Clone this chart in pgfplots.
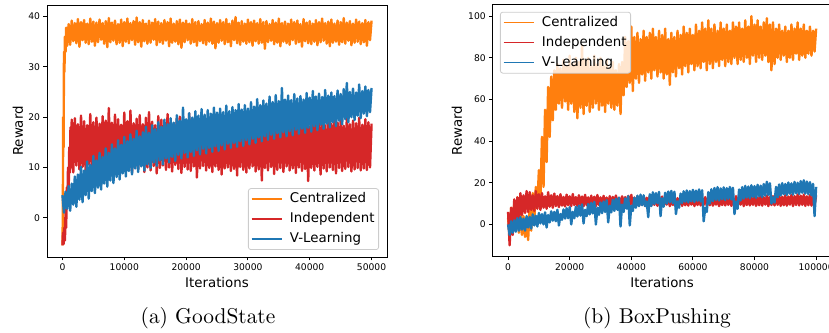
\documentclass[border=0pt]{standalone}
\usepackage{fontspec}
\usepackage{pgfplots}
\usepackage{pgfplotstable}
\pgfplotsset{compat=1.18}
\newfontfamily\dejavu{DejaVu Sans}
\newfontfamily\capfont{lmroman10-regular.otf}
\definecolor{corange}{HTML}{FF7F0E}
\definecolor{cred}{HTML}{D62728}
\definecolor{cblue}{HTML}{1F77B4}

% ---------------- GoodState ----------------
\pgfplotstableread{
x y
0 -5.5
60 0
120 20
180 14
250 33
320 29
400 36
500 33
600 37.8
750 34.2
1000 38.5
1250 34.4
1500 39.2
1750 35.1
2000 38.7
2250 34.7
2500 39.5
2750 34.0
3000 38.9
3250 35.3
3500 39.3
3750 34.8
4000 38.6
4250 34.5
4500 39.6
4750 35.0
5000 39.0
5250 34.2
5500 38.8
5750 34.9
6000 39.4
6250 35.4
6500 38.7
6750 34.6
7000 39.1
7250 33.9
7500 39.7
7750 34.9
8000 38.8
8250 35.2
8500 39.2
8750 34.5
9000 38.5
9250 34.8
9500 39.4
9750 34.1
10000 38.9
10250 35.0
10500 39.6
10750 34.7
11000 38.7
11250 35.3
11500 39.1
11750 34.4
12000 39.8
12250 34.9
12500 38.9
12750 34.0
13000 39.3
13250 35.1
13500 38.6
13750 34.6
14000 39.2
14250 34.8
14500 38.8
14750 35.4
15000 39.5
15250 34.3
15500 39.0
15750 34.9
16000 38.7
16250 34.6
16500 39.3
16750 35.2
17000 38.9
17250 34.1
17500 39.6
17750 34.8
18000 38.6
18250 35.0
18500 39.1
18750 34.5
19000 39.4
19250 33.8
19500 38.8
19750 34.9
20000 39.2
20250 35.3
20500 38.6
20750 34.6
21000 39.5
21250 34.9
21500 38.9
21750 34.2
22000 39.1
22250 35.1
22500 38.5
22750 34.7
23000 39.3
23250 34.4
23500 38.8
23750 35.0
24000 39.6
24250 34.6
24500 39.0
24750 33.7
25000 38.7
25250 34.8
25500 39.3
25750 35.2
26000 38.9
26250 34.5
26500 39.5
26750 34.9
27000 38.6
27250 34.1
27500 39.2
27750 35.3
28000 39.9
28250 34.7
28500 38.8
28750 34.4
29000 39.1
29250 35.0
29500 38.6
29750 34.6
30000 39.4
30250 34.9
30500 38.9
30750 34.2
31000 39.2
31250 35.1
31500 38.7
31750 34.6
32000 39.5
32250 34.8
32500 38.9
32750 33.6
33000 39.1
33250 34.9
33500 38.5
33750 35.2
34000 39.3
34250 34.5
34500 38.8
34750 34.8
35000 39.6
35250 34.1
35500 38.7
35750 35.0
36000 39.0
36250 34.7
36500 38.6
36750 34.4
37000 39.4
37250 35.3
37500 38.9
37750 34.6
38000 39.2
38250 34.9
38500 38.5
38750 34.0
39000 39.5
39250 35.1
39500 38.8
39750 34.7
40000 39.1
40250 34.5
40500 38.6
40750 35.0
41000 39.3
41250 34.3
41500 38.9
41750 34.9
42000 39.6
42250 35.2
42500 38.7
42750 34.6
43000 39.0
43250 34.1
43500 39.4
43750 34.8
44000 38.6
44250 35.0
44500 39.2
44750 34.4
45000 38.9
45250 34.9
45500 39.7
45750 34.6
46000 38.8
46250 35.2
46500 39.1
46750 34.3
47000 38.6
47250 34.8
47500 39.4
47750 35.0
48000 39.0
48250 34.5
48500 38.7
48750 34.9
49000 39.3
49250 34.2
49500 38.9
49750 35.3
50000 39.2
}\gsCen

\pgfplotstableread{
x y
0 -5.5
100 -3
200 -5.2
300 -2
400 -4.5
500 1
600 -2
700 6
800 3
900 10
1000 5
1100 14
1200 9
1300 18
1400 10
1500 19.5
1750 9.0
2000 19.8
2250 10.4
2500 18.6
2750 9.6
3000 20.3
3250 10.1
3500 19.2
3750 9.2
4000 18.4
4250 10.6
4500 20.6
4750 9.8
5000 19.0
5250 10.2
5500 19.9
5750 9.4
6000 18.7
6250 10.7
6500 20.2
6750 9.9
7000 19.3
7250 10.3
7500 21.8
7750 9.5
8000 18.9
8250 10.8
8500 20.5
8750 9.7
9000 19.6
9250 10.1
9500 18.5
9750 9.3
10000 20.9
10250 10.5
10500 19.2
10750 9.9
11000 21.3
11250 8.9
11500 18.8
11750 10.2
12000 19.7
12250 9.6
12500 20.4
12750 10.6
13000 18.6
13250 9.1
13500 19.9
13750 10.0
14000 21.0
14250 9.4
14500 19.1
14750 10.3
15000 18.4
15250 8.8
15500 20.2
15750 9.9
16000 19.5
16250 10.4
16500 18.7
16750 9.5
17000 20.6
17250 10.0
17500 19.0
17750 9.2
18000 18.3
18250 10.5
18500 19.8
18750 9.7
19000 20.1
19250 8.9
19500 18.9
19750 10.1
20000 19.4
20250 9.6
20500 20.7
20750 9.3
21000 18.5
21250 10.2
21500 19.6
21750 8.0
22000 18.8
22250 9.8
22500 20.0
22750 10.3
23000 19.3
23250 9.4
23500 18.2
23750 9.9
24000 19.7
24250 9.1
24500 20.3
24750 10.2
25000 18.6
25250 9.5
25500 19.1
25750 8.6
26000 18.0
26250 9.8
26500 19.5
26750 10.0
27000 18.7
27250 9.3
27500 19.9
27750 9.7
28000 18.4
28250 8.4
28500 19.2
28750 10.1
29000 20.0
29250 9.5
29500 18.1
29750 9.0
30000 18.9
30250 9.8
30500 19.6
30750 10.2
31000 18.3
31250 9.2
31500 19.0
31750 9.6
32000 18.5
32250 7.4
32500 19.8
32750 9.9
33000 18.2
33250 9.4
33500 19.3
33750 10.1
34000 18.7
34250 8.7
34500 20.1
34750 9.5
35000 18.4
35250 9.9
35500 19.0
35750 9.1
36000 18.8
36250 10.2
36500 19.5
36750 9.4
37000 18.3
37250 9.8
37500 19.9
37750 8.9
38000 18.6
38250 10.0
38500 20.4
38750 9.3
39000 18.9
39250 9.7
39500 19.2
39750 7.3
40000 18.1
40250 9.9
40500 19.7
40750 9.4
41000 18.5
41250 10.1
41500 20.0
41750 8.6
42000 19.1
42250 9.8
42500 18.4
42750 9.2
43000 19.6
43250 10.0
43500 18.7
43750 9.5
44000 20.2
44250 8.8
44500 18.9
44750 9.9
45000 19.4
45250 9.3
45500 18.3
45750 9.7
46000 19.8
46250 10.1
46500 18.6
46750 9.2
47000 19.3
47250 9.6
47500 18.8
47750 9.9
48000 19.9
48250 9.4
48500 18.5
48750 9.8
49000 19.6
49250 9.5
49500 19.0
49750 10.0
50000 18.7
}\gsInd

\pgfplotstableread{
x y
0 4.5
250 1.0
500 5.2
750 1.8
1000 6.3
1250 1.4
1500 6.8
1750 2.6
2000 8.2
2250 2.2
2500 8.6
2750 3.6
3000 10.1
3250 3.1
3500 9.4
3750 4.5
4000 11.2
4250 3.8
4500 10.5
4750 5.3
5000 12.3
5250 4.9
5500 11.4
5750 6.0
6000 12.9
6250 5.6
6500 12.1
6750 6.8
7000 13.8
7250 6.2
7500 12.9
7750 7.4
8000 14.6
8250 6.9
8500 13.8
8750 8.1
9000 15.4
9250 7.6
9500 14.5
9750 8.8
10000 16.1
10250 8.2
10500 15.2
10750 9.3
11000 16.6
11250 8.6
11500 15.7
11750 9.8
12000 17.3
12250 9.1
12500 16.2
12750 10.2
13000 17.0
13250 9.4
13500 18.1
13750 10.6
14000 16.9
14250 9.9
14500 18.4
14750 11.0
15000 17.6
15250 10.3
15500 19.0
15750 11.4
16000 18.1
16250 10.6
16500 19.5
16750 11.8
17000 18.6
17250 11.0
17500 19.8
17750 12.1
18000 18.9
18250 11.3
18500 20.4
18750 12.5
19000 19.3
19250 11.8
19500 21.9
19750 12.9
20000 19.6
20250 12.0
20500 20.8
20750 13.1
21000 19.9
21250 12.3
21500 21.2
21750 13.4
22000 20.3
22250 12.6
22500 21.6
22750 13.7
23000 20.5
23250 12.8
23500 21.4
23750 13.9
24000 20.7
24250 13.1
24500 21.9
24750 14.2
25000 20.9
25250 13.3
25500 21.7
25750 14.4
26000 21.0
26250 13.6
26500 22.3
26750 14.7
27000 21.2
27250 13.9
27500 22.0
27750 14.9
28000 21.4
28250 14.1
28500 22.6
28750 15.2
29000 21.5
29250 14.3
29500 22.4
29750 15.4
30000 21.7
30250 14.6
30500 23.0
30750 15.7
31000 22.1
31250 14.9
31500 23.6
31750 16.0
32000 22.4
32250 15.2
32500 23.3
32750 16.2
33000 22.7
33250 15.5
33500 24.1
33750 16.5
34000 23.0
34250 15.7
34500 24.4
34750 16.8
35000 23.2
35250 16.0
35500 25.8
35750 17.0
36000 23.5
36250 16.2
36500 24.3
36750 17.2
37000 23.4
37250 16.4
37500 24.6
37750 17.5
38000 23.7
38250 16.7
38500 24.2
38750 17.7
39000 23.5
39250 16.9
39500 24.8
39750 17.9
40000 23.9
40250 17.1
40500 25.2
40750 18.2
41000 24.1
41250 17.4
41500 24.7
41750 18.5
42000 24.0
42250 17.7
42500 25.4
42750 18.7
43000 24.3
43250 18.0
43500 24.9
43750 19.0
44000 24.2
44250 18.2
44500 25.3
44750 19.3
45000 24.6
45250 18.6
45500 25.6
45750 19.6
46000 26.8
46250 19.0
46500 25.0
46750 20.0
47000 25.7
47250 19.4
47500 24.9
47750 20.3
48000 26.5
48250 19.8
48500 25.2
48750 20.7
49000 26.1
49250 20.2
49500 25.4
49750 21.0
50000 25.8
}\gsVL

% ---------------- BoxPushing ----------------
\pgfplotstableread{
x y
0 3
500 -5
1000 8
1500 -3
2000 10
2500 -2
3000 13
3500 -4
4000 6
4500 -5
5000 4
5500 -6
6000 3
6500 -7.5
7000 8
7500 -3
8000 15
8500 2
9000 18
9500 9
10000 26
10500 13
11000 42
11500 18
12000 55
12500 30
13000 66
13500 42
14000 71
14500 50
15000 74
15500 55
16000 77
16500 58
17000 75
17500 56
18000 79
18500 59
19000 76
19500 55
20000 81
20500 58
21000 77
21500 54
22000 80
22500 51
23000 78
23500 56
24000 86
24500 53
25000 79
25500 57
26000 80
26500 54
27000 76
27500 56
28000 81
28500 58
29000 77
29500 55
30000 80
30500 57
31000 76
31500 54
32000 79
32500 58
33000 75
33500 56
34000 78
34500 55
35000 74
35500 57
36000 77
36500 53
37000 78
37500 62
38000 90
38500 66
39000 88
39500 68
40000 95
40500 64
41000 90
41500 70
42000 92
42500 68
43000 89
43500 72
44000 93
44500 69
45000 90
45500 73
46000 92
46500 70
47000 94
47500 74
48000 90
48500 71
49000 93
49500 73
50000 91
50500 70
51000 94
51500 72
52000 89
52500 67
53000 92
53500 73
54000 90
54500 71
55000 93
55500 75
56000 91
56500 72
57000 95
57500 76
58000 92
58500 73
59000 94
59500 77
60000 91
60500 74
61000 96
61500 76
62000 93
62500 75
63000 97
63500 78
64000 94
64500 74
65000 98
65500 77
66000 94
66500 75
67000 96
67500 78
68000 93
68500 76
69000 97
69500 79
70000 94
70500 76
71000 96
71500 78
72000 93
72500 77
73000 97
73500 80
74000 95
74500 77
75000 97
75500 79
76000 94
76500 78
77000 98
77500 80
78000 95
78500 77
79000 100
79500 81
80000 96
80500 78
81000 98
81500 80
82000 95
82500 79
83000 97
83500 81
84000 99
84500 78
85000 96
85500 74
86000 97
86500 77
87000 94
87500 80
88000 96
88500 79
89000 93
89500 81
90000 95
90500 78
91000 93
91500 80
92000 96
92500 79
93000 94
93500 82
94000 97
94500 79
95000 94
95500 81
96000 96
96500 80
97000 93
97500 82
98000 95
98500 81
99000 93
99500 83
100000 94
}\bpCen

\pgfplotstableread{
x y
0 6
500 -10
1000 8
1500 -5
2000 12
2500 0
3000 13
3500 3
4000 15
4500 4.5
5000 14
5500 5.5
6000 16
6500 6
7000 15.5
7500 7
8000 14
8500 6.5
9000 16
9500 7.5
10000 14.5
10500 7
11000 15
11500 8
12000 13.5
12500 7.5
13000 15.5
13500 8.5
14000 14
14500 8
15000 14.8
15500 8.8
16000 13.6
16500 8.3
17000 14.5
17500 9
18000 13.2
18500 8.6
19000 14.3
19500 9.2
20000 13.5
20500 8.8
21000 14.6
21500 9.3
22000 13.1
22500 8.9
23000 14.0
23500 9.4
24000 13.4
24500 8.7
25000 14.2
25500 9.2
26000 13.0
26500 9.0
27000 13.8
27500 9.5
28000 13.3
28500 8.8
29000 14.1
29500 9.3
30000 13.0
30500 9.0
31000 13.7
31500 9.4
32000 12.9
32500 8.9
33000 13.6
33500 9.2
34000 13.2
34500 9.1
35000 13.9
35500 9.5
36000 12.8
36500 8.8
37000 13.5
37500 9.3
38000 13.1
38500 9.0
39000 13.7
39500 9.4
40000 14.2
40500 8.9
41000 12.9
41500 9.2
42000 13.5
42500 9.0
43000 12.7
43500 9.5
44000 13.3
44500 8.8
45000 12.8
45500 9.3
46000 13.6
46500 9.1
47000 12.6
47500 9.4
48000 13.2
48500 8.9
49000 12.9
49500 9.2
50000 13.4
50500 9.0
51000 12.7
51500 9.5
52000 13.1
52500 8.8
53000 12.8
53500 9.3
54000 13.5
54500 9.1
55000 12.6
55500 9.4
56000 13.2
56500 8.9
57000 12.9
57500 9.2
58000 13.4
58500 9.0
59000 12.7
59500 9.5
60000 13.0
60500 8.8
61000 12.8
61500 9.3
62000 13.3
62500 9.1
63000 12.6
63500 9.4
64000 13.1
64500 8.9
65000 12.9
65500 9.2
66000 13.4
66500 9.0
67000 12.7
67500 9.5
68000 13.2
68500 8.8
69000 12.8
69500 9.3
70000 13.5
70500 9.1
71000 12.9
71500 9.4
72000 13.3
72500 8.9
73000 12.7
73500 9.2
74000 13.6
74500 9.0
75000 13.0
75500 9.5
76000 13.4
76500 8.8
77000 12.8
77500 9.3
78000 13.2
78500 9.1
79000 13.0
79500 9.4
80000 13.5
80500 8.9
81000 12.9
81500 9.2
82000 13.7
82500 9.0
83000 13.1
83500 9.5
84000 13.9
84500 8.8
85000 13.2
85500 9.3
86000 13.6
86500 9.1
87000 13.0
87500 9.4
88000 13.8
88500 8.9
89000 13.3
89500 9.2
90000 14.0
90500 9.0
91000 13.4
91500 9.5
92000 14.2
92500 8.8
93000 13.6
93500 9.3
94000 14.4
94500 9.1
95000 13.8
95500 9.4
96000 14.3
96500 8.9
97000 13.5
97500 9.2
98000 14.1
98500 9.0
99000 13.7
99500 9.3
100000 13.9
}\bpInd

\pgfplotstableread{
x y
0 0
500 -5
1000 1.5
1500 -4
2000 2.0
2500 -3.5
3000 3.0
3500 -3.0
4000 3.5
4500 -2.5
5000 2.8
5500 -3.0
6000 4.0
6500 -1.5
7000 3.6
7500 -2.0
8000 4.8
8500 -0.5
9000 4.2
9500 -1.0
10000 5.5
10500 0.5
11000 4.9
11500 0.0
12000 5.8
12500 -1.5
13000 4.5
13500 1.0
14000 6.3
14500 1.8
15000 6.0
15500 1.5
16000 7.0
16500 -0.5
17000 5.0
17500 2.2
18000 7.2
18500 2.8
19000 7.8
19500 3.0
20000 8.3
20500 0.0
21000 6.0
21500 3.0
22000 8.5
22500 3.8
23000 9.0
23500 4.2
24000 9.6
24500 0.5
25000 7.0
25500 4.0
26000 9.8
26500 4.8
27000 10.3
27500 5.3
28000 10.8
28500 0.0
29000 8.0
29500 4.6
30000 10.5
30500 5.4
31000 11.0
31500 6.0
32000 11.6
32500 1.0
33000 9.0
33500 5.8
34000 11.8
34500 6.5
35000 12.3
35500 7.0
36000 12.9
36500 -1.0
37000 9.5
37500 6.0
38000 12.5
38500 7.6
39000 13.6
39500 -0.5
40000 9.0
40500 6.5
41000 12.8
41500 8.0
42000 13.8
42500 8.8
43000 14.3
43500 9.2
44000 14.0
44500 8.8
45000 11.0
45500 3.5
46000 14.5
46500 8.8
47000 15.4
47500 9.8
48000 15.0
48500 10.2
49000 15.6
49500 4.0
50000 12.5
50500 8.5
51000 15.2
51500 10.0
52000 15.8
52500 10.6
53000 16.1
53500 10.2
54000 15.7
54500 5.0
55000 11.0
55500 8.0
56000 14.8
56500 10.3
57000 15.9
57500 10.9
58000 16.3
58500 10.6
59000 16.0
59500 11.1
60000 16.6
60500 10.8
61000 16.2
61500 11.3
62000 16.8
62500 11.0
63000 16.4
63500 1.5
64000 8.0
64500 6.0
65000 15.5
65500 10.0
66000 16.9
66500 11.2
67000 17.5
67500 11.8
68000 17.9
68500 11.5
69000 17.3
69500 12.1
70000 17.8
70500 11.7
71000 17.4
71500 12.3
72000 18.0
72500 12.0
73000 17.6
73500 5.0
74000 11.0
74500 7.5
75000 16.8
75500 11.5
76000 17.9
76500 12.4
77000 18.5
77500 12.9
78000 18.2
78500 12.6
79000 18.8
79500 13.2
80000 18.4
80500 12.8
81000 19.0
81500 13.5
82000 18.6
82500 13.1
83000 19.4
83500 13.8
84000 20.5
84500 14.2
85000 19.8
85500 10.0
86000 13.0
86500 10.5
87000 18.0
87500 13.0
88000 19.2
88500 13.9
89000 19.8
89500 14.5
90000 19.4
90500 14.1
91000 20.1
91500 14.7
92000 19.7
92500 14.3
93000 20.4
93500 15.0
94000 20.0
94500 14.6
95000 20.8
95500 15.2
96000 21.2
96500 14.8
97000 20.6
97500 14.5
98000 20.3
98500 14.0
99000 19.5
99500 4.0
100000 18.0
}\bpVL

\pgfplotsset{
  mplaxis/.style={
    scale only axis, height=252bp,
    axis line style={line width=0.9bp, black},
    tick pos=left, tick align=outside, major tick length=3.5bp,
    every tick/.style={black, line width=0.9bp},
    scaled ticks=false,
    xticklabel={\pgfmathprintnumber[fixed,precision=0,1000 sep={},assume math mode=true]{\tick}},
    yticklabel={\pgfmathprintnumber[fixed,precision=0,1000 sep={},assume math mode=true]{\tick}},
    tick label style={font=\dejavu\fontsize{9.2}{11}\selectfont},
    label style={font=\dejavu\fontsize{13.4}{16}\selectfont},
    xlabel={Iterations}, ylabel={Reward},
    xlabel style={at={(axis description cs:0.5,-0.103)}, anchor=center},
    legend cell align=left,
    legend style={draw=black!20, line width=0.8bp, rounded corners=2.5bp,
      fill=white, fill opacity=0.8, draw opacity=1, text opacity=1,
      font=\dejavu\fontsize{13.4}{16}\selectfont,
      nodes={text height=10bp, text depth=3bp, inner sep=1.5bp},
      inner xsep=2.5bp, inner ysep=2.5bp, row sep=4bp, column sep=6bp},
    legend image code/.code={\draw[#1, line width=1.6bp] (0bp,0bp) -- (30bp,0bp);},
  },
  noisy/.style={line width=2.4bp, line join=round, mark=none},
}

\begin{document}
\begin{tikzpicture}
\useasboundingbox (0,0) rectangle (829bp,333bp);

\begin{axis}[mplaxis,
  at={(47bp,76bp)}, anchor=south west, width=340bp,
  xmin=-2500, xmax=52500, ymin=-7.8, ymax=42.3,
  xtick={0,10000,20000,30000,40000,50000},
  ytick={0,10,20,30,40},
  ylabel style={at={(axis description cs:-0.0853,0.5)}, anchor=center},
  legend style={at={(0.9765,0.0278)}, anchor=south east},
]
\addplot[noisy, corange] table[x=x,y=y]{\gsCen};
\addplot[noisy, cred] table[x=x,y=y]{\gsInd};
\addplot[noisy, cblue] table[x=x,y=y]{\gsVL};
\legend{Centralized, Independent, V-Learning}
\end{axis}

\begin{axis}[mplaxis,
  at={(492.7bp,76.3bp)}, anchor=south west, width=338.8bp,
  xmin=-5000, xmax=105000, ymin=-15.5, ymax=105.5,
  xtick={0,20000,40000,60000,80000,100000},
  ytick={0,20,40,60,80,100},
  ylabel style={at={(axis description cs:-0.1054,0.5)}, anchor=center},
  legend style={at={(0.0215,0.972)}, anchor=north west},
]
\addplot[noisy, corange] table[x=x,y=y]{\bpCen};
\addplot[noisy, cred] table[x=x,y=y]{\bpInd};
\addplot[noisy, cblue] table[x=x,y=y]{\bpVL};
\legend{Centralized, Independent, V-Learning}
\end{axis}

\node[anchor=base, font=\capfont\fontsize{21.5}{24}\selectfont] at (208bp,10bp) {(a) GoodState};
\node[anchor=base, font=\capfont\fontsize{21.5}{24}\selectfont] at (657bp,10bp) {(b) BoxPushing};
\end{tikzpicture}
\end{document}
